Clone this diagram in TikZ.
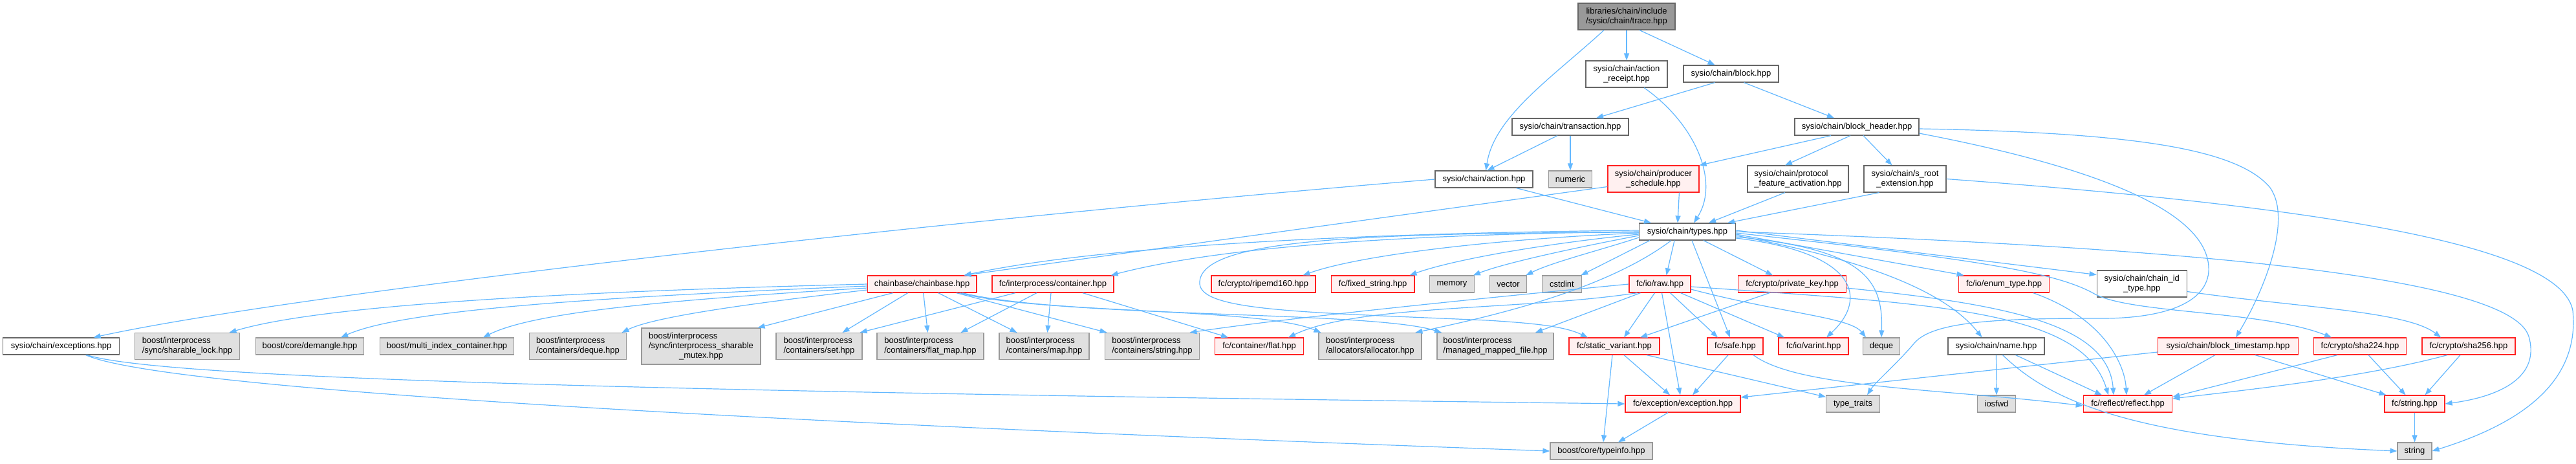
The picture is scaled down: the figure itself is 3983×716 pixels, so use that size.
\documentclass[tikz,border=0pt]{standalone}
\usepackage{fontspec}
\setmainfont{Liberation Sans}
\usetikzlibrary{arrows.meta}
\definecolor{eb}{HTML}{63B8FF}
\definecolor{gfour}{HTML}{666666}
\definecolor{gsix}{HTML}{999999}
\definecolor{gnine}{HTML}{E0E0E0}
\definecolor{rfill}{HTML}{FFF0F0}
\definecolor{rbord}{HTML}{FF2020}
\begin{document}
\begin{tikzpicture}[x=1pt,y=-1pt,
  every node/.style={font=\fontsize{13}{15}\selectfont, inner xsep=2pt, inner ysep=0pt, minimum height=26pt, line width=1.2pt},
  wn/.style={draw=gfour, fill=white},
  gn/.style={draw=gsix, fill=gnine},
  rn/.style={draw=rbord, fill=rfill},
  rootn/.style={draw=gfour, fill=gsix},
  dep/.style={draw=eb, line width=1.2pt, -{Triangle[length=11pt,width=8pt]}},
]
\fill[white] (0,0) rectangle (3983,716);
\useasboundingbox (0,0) rectangle (3983,716);

% ---------- nodes ----------
\node[rootn, minimum width=150pt, minimum height=41pt, align=center] (trace) at (2515,25.5) {libraries/chain/include\\/sysio/chain/trace.hpp};
\node[wn, minimum width=126pt, minimum height=41pt, align=center] (receipt) at (2515,114.5) {sysio/chain/action\\\_receipt.hpp};
\node[wn, minimum width=147pt] (block) at (2676.5,114) {sysio/chain/block.hpp};
\node[wn, minimum width=180pt] (transaction) at (2428,196) {sysio/chain/transaction.hpp};
\node[wn, minimum width=192pt] (blockheader) at (2871,196) {sysio/chain/block\_header.hpp};
\node[wn, minimum width=151pt] (action) at (2294.5,277) {sysio/chain/action.hpp};
\node[gn, minimum width=67pt] (numeric) at (2428,277) {numeric};
\node[rn, minimum width=141pt, minimum height=41pt, align=center] (prodsched) at (2556.4,276.5) {sysio/chain/producer\\\_schedule.hpp};
\node[wn, minimum width=156pt, minimum height=41pt, align=left] (protofeat) at (2780,276.5) {sysio/chain/protocol\\\_feature\_activation.hpp};
\node[wn, minimum width=127pt, minimum height=41pt, align=center] (sroot) at (2945.5,276.5) {sysio/chain/s\_root\\\_extension.hpp};
\node[wn, minimum width=149pt] (types) at (2609,358) {sysio/chain/types.hpp};

\node[rn, minimum width=168.5pt] (chainbase) at (1425.7,439) {chainbase/chainbase.hpp};
\node[rn, minimum width=188pt] (ipcontainer) at (1628,439) {fc/interprocess/container.hpp};
\node[rn, minimum width=161pt] (ripemd) at (1953.4,439) {fc/crypto/ripemd160.hpp};
\node[rn, minimum width=128.5pt] (fixedstr) at (2122.7,439) {fc/fixed\_string.hpp};
\node[gn, minimum width=68.5pt] (memory) at (2245,439) {memory};
\node[gn, minimum width=57.5pt] (vector) at (2332,439) {vector};
\node[gn, minimum width=61.5pt] (cstdint) at (2415,439) {cstdint};
\node[rn, minimum width=95pt] (raw) at (2566.5,439) {fc/io/raw.hpp};
\node[rn, minimum width=166.5pt] (privkey) at (2771,439) {fc/crypto/private\_key.hpp};
\node[rn, minimum width=140pt] (enumtype) at (3098.6,439) {fc/io/enum\_type.hpp};
\node[wn, minimum width=139pt, minimum height=41pt, align=center] (chainid) at (3311.7,438.5) {sysio/chain/chain\_id\\\_type.hpp};

\node[wn, minimum width=179.5pt] (exceptions) at (94.6,535) {sysio/chain/exceptions.hpp};
\node[gn, minimum width=162pt, minimum height=41pt, align=left] (sharablelock) at (289.5,535) {boost/interprocess\\/sync/sharable\_lock.hpp};
\node[gn, minimum width=167.5pt] (demangle) at (479,535) {boost/core/demangle.hpp};
\node[gn, minimum width=207.6pt] (multiindex) at (691,535) {boost/multi\_index\_container.hpp};
\node[gn, minimum width=149.5pt, minimum height=41pt, align=left] (ipdeque) at (893.5,535) {boost/interprocess\\/containers/deque.hpp};
\node[gn, minimum width=184pt, minimum height=56pt, align=left] (sharablemutex) at (1084,535) {boost/interprocess\\/sync/interprocess\_sharable\\\hspace*{47pt}\_mutex.hpp};
\node[gn, minimum width=133pt, minimum height=41pt, align=left] (ipset) at (1266.5,535) {boost/interprocess\\/containers/set.hpp};
\node[gn, minimum width=165pt, minimum height=41pt, align=left] (flatmap) at (1438.5,535) {boost/interprocess\\/containers/flat\_map.hpp};
\node[gn, minimum width=139pt, minimum height=41pt, align=left] (ipmap) at (1614.5,535) {boost/interprocess\\/containers/map.hpp};
\node[gn, minimum width=146pt, minimum height=41pt, align=left] (ipstring) at (1781.5,535) {boost/interprocess\\/containers/string.hpp};
\node[rn, minimum width=137pt] (flat) at (1947,535) {fc/container/flat.hpp};
\node[gn, minimum width=159pt, minimum height=41pt, align=left] (allocator) at (2118.4,535) {boost/interprocess\\/allocators/allocator.hpp};
\node[gn, minimum width=180pt, minimum height=41pt, align=left] (mmf) at (2312,535) {boost/interprocess\\/managed\_mapped\_file.hpp};
\node[rn, minimum width=140pt] (staticvar) at (2496,535) {fc/static\_variant.hpp};
\node[rn, minimum width=86pt] (safe) at (2683,535) {fc/safe.hpp};
\node[rn, minimum width=108pt] (varint) at (2804,535) {fc/io/varint.hpp};
\node[gn, minimum width=56.5pt] (deque) at (2909,535) {deque};
\node[wn, minimum width=149pt] (name) at (3086.5,535) {sysio/chain/name.hpp};
\node[rn, minimum width=216.5pt] (blockts) at (3445,535) {sysio/chain/block\_timestamp.hpp};
\node[rn, minimum width=143pt] (sha224) at (3649,535) {fc/crypto/sha224.hpp};
\node[rn, minimum width=144pt] (sha256) at (3817,535) {fc/crypto/sha256.hpp};

\node[rn, minimum width=178pt] (exception) at (2602,624) {fc/exception/exception.hpp};
\node[gn, minimum width=82.6pt] (typetraits) at (2865,624) {type\_traits};
\node[gn, minimum width=59.5pt] (iosfwd) at (3087,624) {iosfwd};
\node[rn, minimum width=137.5pt] (reflect) at (3290,624) {fc/reflect/reflect.hpp};
\node[rn, minimum width=93pt] (fcstring) at (3733.5,624) {fc/string.hpp};

\node[gn, minimum width=158pt] (typeinfo) at (2476,697) {boost/core/typeinfo.hpp};
\node[gn, minimum width=53pt] (string) at (3733.5,697) {string};

% ---------- edges ----------
% top part
\draw[dep] ([xshift=-35pt]trace.south) .. controls (2400,120) and (2310,180) .. ([xshift=3pt]action.north);
\draw[dep] (trace) -- (receipt);
\draw[dep] ([xshift=20pt]trace.south) -- ([xshift=-25pt]block.north);
\draw[dep] ([xshift=27pt]receipt.south) .. controls (2620,190) and (2660,280) .. ([xshift=10pt]types.north);
\draw[dep] ([xshift=-25pt]block.south) -- ([xshift=40pt]transaction.north);
\draw[dep] ([xshift=20pt]block.south) -- ([xshift=-35pt]blockheader.north);
\draw[dep] ([xshift=-20pt]transaction.south) -- ([xshift=5pt]action.north);
\draw[dep] (transaction.south) -- (numeric.north);
\draw[dep] ([xshift=-40pt]blockheader.south) -- (prodsched.north east);
\draw[dep] ([xshift=-10pt]blockheader.south) -- ([xshift=-20pt]protofeat.north);
\draw[dep] ([xshift=10pt]blockheader.south) -- ([xshift=-20pt]sroot.north);
\draw[dep] ([yshift=-3pt]blockheader.east) .. controls (3300,205) and (3460,230) .. (3510,290) .. controls (3545,340) and (3500,450) .. ([xshift=12pt]blockts.north);
\draw[dep] ([yshift=-10pt]blockheader.east) .. controls (3250,260) and (3420,330) .. (3415,420) .. controls (3410,475) and (3330,492) .. (3250,492) .. controls (3100,492) and (2990,495) .. (2960,530) .. controls (2935,560) and (2900,590) .. ([xshift=22pt]typetraits.north);
\draw[dep] ([xshift=50pt]action.south) -- ([xshift=-56pt]types.north);
\draw[dep] (action.west) .. controls (1400,345) and (450,455) .. ([xshift=50pt]exceptions.north);
\draw[dep] ([xshift=40pt]prodsched.south) -- ([xshift=-15pt]types.north);
\draw[dep] ([yshift=-12pt]prodsched.west) -- ([xshift=-20pt]chainbase.north east);
\draw[dep] ([xshift=-20pt]protofeat.south) -- ([xshift=33pt]types.north);
\draw[dep] ([xshift=-40pt]sroot.south) -- ([xshift=62pt]types.north);
\draw[dep] (sroot.east) .. controls (3600,320) and (3960,380) .. (3978,480) .. controls (3990,600) and (3880,660) .. (string.east);

% from types
\draw[dep] ([yshift=2pt]types.west) .. controls (2100,360) and (1700,380) .. ([xshift=-20pt]chainbase.north east);
\draw[dep] (types.west) .. controls (2200,362) and (1900,378) .. ([xshift=-5pt]ipcontainer.north east);
\draw[dep] ([yshift=-2pt]types.west) .. controls (2300,370) and (2100,395) .. ([xshift=-20pt]ripemd.north east);
\draw[dep] ([yshift=-4pt]types.west) .. controls (2400,375) and (2250,400) .. ([xshift=-8pt]fixedstr.north east);
\draw[dep] ([yshift=-6pt]types.west) .. controls (2450,380) and (2330,405) .. ([xshift=-2pt]memory.north east);
\draw[dep] ([yshift=-9pt]types.west) .. controls (2480,385) and (2400,405) .. ([xshift=-2pt]vector.north east);
\draw[dep] ([xshift=-58pt]types.south) -- ([xshift=-2pt]cstdint.north east);
\draw[dep] ([xshift=-20pt]types.south) -- ([xshift=10pt]raw.north);
\draw[dep] ([xshift=7pt]types.south) -- ([xshift=-8pt]safe.north);
\draw[dep] ([xshift=25pt]types.south) -- ([xshift=-30pt]privkey.north);
\draw[dep] ([xshift=-25pt]types.south) .. controls (2480,450) and (2300,490) .. ([xshift=70pt]allocator.north);
\draw[dep] ([yshift=-1pt]types.west) .. controls (2100,360) and (1860,370) .. (1855,435) .. controls (1850,480) and (2000,482) .. (2300,495) .. controls (2380,500) and (2420,505) .. ([xshift=-41pt]staticvar.north);
\draw[dep] ([yshift=-10pt]types.east) .. controls (2870,390) and (2890,460) .. ([xshift=20pt]varint.north);
\draw[dep] ([yshift=-8pt]types.east) .. controls (2880,385) and (2912,430) .. (deque.north);
\draw[dep] ([yshift=-6pt]types.east) .. controls (2850,395) and (3000,440) .. ([xshift=-22pt]name.north);
\draw[dep] ([yshift=-4pt]types.east) -- ([xshift=-62pt]enumtype.north);
\draw[dep] ([yshift=2pt]types.east) -- ([yshift=14pt]chainid.west);
\draw[dep] ([yshift=-2pt]types.east) .. controls (3050,400) and (3180,420) .. (3240,455) .. controls (3300,485) and (3500,480) .. ([xshift=-44pt]sha224.north);
\draw[dep] (types.east) .. controls (3300,380) and (3880,420) .. (3910,520) .. controls (3930,590) and (3850,615) .. (fcstring.east);

% chainbase
\draw[dep] (chainbase.west) .. controls (900,450) and (500,470) .. ([xshift=65pt]sharablelock.north);
\draw[dep] ([yshift=-3pt]chainbase.west) .. controls (900,460) and (620,480) .. ([xshift=48pt]demangle.north);
\draw[dep] ([yshift=-6pt]chainbase.west) .. controls (1000,465) and (820,485) .. ([xshift=56pt]multiindex.north);
\draw[dep] ([yshift=-9pt]chainbase.west) .. controls (1150,470) and (1010,490) .. ([xshift=68pt]ipdeque.north);
\draw[dep] ([xshift=-45pt]chainbase.south) -- ([xshift=-5pt]sharablemutex.north east);
\draw[dep] ([xshift=-22pt]chainbase.south) -- ([xshift=36pt]ipset.north);
\draw[dep] ([xshift=2pt]chainbase.south) -- ([xshift=-4pt]flatmap.north);
\draw[dep] ([xshift=25pt]chainbase.south) -- ([xshift=-42pt]ipmap.north);
\draw[dep] ([xshift=53pt]chainbase.south) -- ([xshift=-70pt]ipstring.north);
\draw[dep] ([xshift=58pt]chainbase.south) .. controls (1600,485) and (1950,475) .. ([xshift=-76pt]allocator.north);
\draw[dep] ([xshift=62pt]chainbase.south) .. controls (1650,492) and (2120,480) .. ([xshift=-83pt]mmf.north);

% fc/interprocess/container
\draw[dep] ([xshift=-58pt]ipcontainer.south) -- ([xshift=-4pt]ipset.north east);
\draw[dep] ([xshift=-25pt]ipcontainer.south) -- ([xshift=47pt]flatmap.north);
\draw[dep] ([xshift=-3pt]ipcontainer.south) -- ([xshift=5pt]ipmap.north);
\draw[dep] ([xshift=46pt]ipcontainer.south) -- ([xshift=-48pt]flat.north);

% fc/io/raw
\draw[dep] (raw.west) .. controls (2300,460) and (2000,490) .. ([xshift=58pt]ipstring.north);
\draw[dep] ([xshift=-35pt]raw.south) .. controls (2350,480) and (2100,470) .. ([xshift=45pt]flat.north);
\draw[dep] ([xshift=-30pt]raw.south) -- ([xshift=62pt]mmf.north);
\draw[dep] ([xshift=-8pt]raw.south) -- ([xshift=15pt]staticvar.north);
\draw[dep] ([xshift=3pt]raw.south) -- ([xshift=-4pt]exception.north);
\draw[dep] ([xshift=16pt]raw.south) -- ([xshift=-27pt]safe.north);
\draw[dep] ([xshift=32pt]raw.south) -- ([xshift=-45pt]varint.north);
\draw[dep] ([yshift=-8pt]raw.east) .. controls (2760,485) and (2860,490) .. ([xshift=-24pt]deque.north);
\draw[dep] ([yshift=-4pt]raw.east) .. controls (3000,470) and (3220,480) .. ([xshift=-30pt]reflect.north);

% private key, enum, chain id
\draw[dep] ([xshift=-35pt]privkey.south) -- ([xshift=40pt]staticvar.north);
\draw[dep] ([yshift=-6pt]privkey.east) .. controls (3100,470) and (3260,500) .. ([xshift=-22pt]reflect.north);
\draw[dep] ([xshift=45pt]enumtype.south) .. controls (3250,490) and (3285,560) .. ([xshift=-2pt]reflect.north);
\draw[dep] ([yshift=-12pt]chainid.east) .. controls (3550,475) and (3720,480) .. ([xshift=-43pt]sha256.north);

% row 6 outgoing
\draw[dep] ([xshift=15pt]staticvar.south) -- ([xshift=-20pt]exception.north);
\draw[dep] ([xshift=50pt]staticvar.south) -- ([yshift=-3pt]typetraits.north west);
\draw[dep] ([xshift=-3pt]staticvar.south) -- ([xshift=3pt]typeinfo.north);
\draw[dep] ([xshift=-11pt]safe.south) -- ([xshift=15pt]exception.north);
\draw[dep] ([xshift=28pt]safe.south) .. controls (2780,600) and (3000,600) .. ([yshift=-3pt]reflect.west);
\draw[dep] (name.south) -- (iosfwd.north);
\draw[dep] ([xshift=30pt]name.south) -- ([xshift=-40pt]reflect.north);
\draw[dep] ([xshift=10pt]name.south) .. controls (3170,620) and (3300,680) .. (string.west);
\draw[dep] ([yshift=-9pt]blockts.west) -- ([yshift=10pt]exception.east);
\draw[dep] ([xshift=-20pt]blockts.south) -- ([xshift=25pt]reflect.north);
\draw[dep] ([xshift=42pt]blockts.south) -- ([xshift=-44pt]fcstring.north);
\draw[dep] ([xshift=-35pt]sha224.south) -- ([yshift=-3pt]reflect.north east);
\draw[dep] ([xshift=13pt]sha224.south) -- ([xshift=-14pt]fcstring.north);
\draw[dep] ([xshift=-33pt]sha256.south) .. controls (3650,585) and (3450,605) .. ([yshift=8pt]reflect.east);
\draw[dep] ([xshift=-13pt]sha256.south) -- ([xshift=16pt]fcstring.north);
\draw[dep] ([xshift=40pt]exceptions.south) .. controls (250,585) and (1000,605) .. (exception.west);
\draw[dep] ([xshift=38pt]exceptions.south) .. controls (250,600) and (1100,650) .. (typeinfo.west);

% bottom
\draw[dep] ([xshift=-23pt]exception.south) -- ([xshift=26pt]typeinfo.north);
\draw[dep] (fcstring.south) -- (string.north);
\end{tikzpicture}
\end{document}
